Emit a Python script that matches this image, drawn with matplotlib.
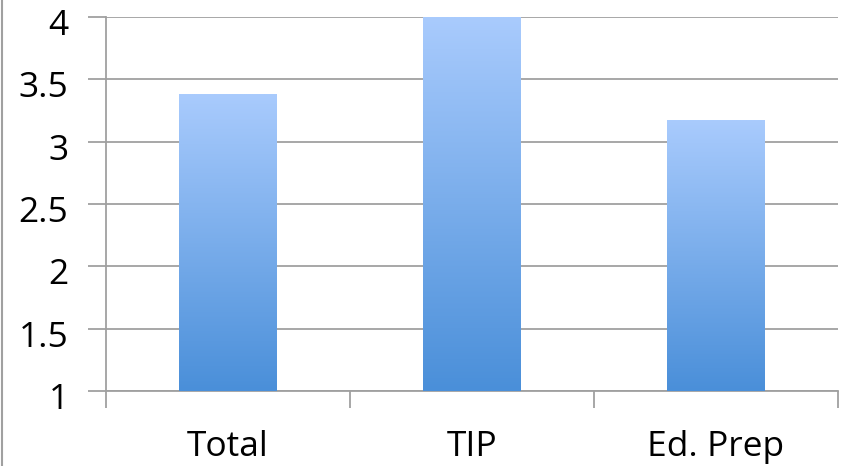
import matplotlib
matplotlib.use("Agg")
import matplotlib.pyplot as plt
import numpy as np
from matplotlib.colors import LinearSegmentedColormap
from matplotlib.lines import Line2D
from matplotlib.transforms import ScaledTranslation

categories = ["Total", "TIP", "Ed. Prep"]
values = [3.38, 4.0, 3.17]
yticks = [1, 1.5, 2, 2.5, 3, 3.5, 4]
ytick_labels = ["1", "1.5", "2", "2.5", "3", "3.5", "4"]

plt.rcParams['font.family'] = ['Open Sans', 'DejaVu Sans']

fig = plt.figure(figsize=(8.45, 4.66), dpi=100)
ax = fig.add_axes([106/845, 1-391/466, 732/845, 374/466])

x = np.arange(len(categories))
bars = ax.bar(x, [v - 1 for v in values], bottom=1, width=0.4, color='none', zorder=3)

cmap = LinearSegmentedColormap.from_list("g", ["#4a8fd9", "#a9cbfd"])
grad = np.linspace(0, 1, 256).reshape(-1, 1)
for b in bars:
    x0, y0 = b.get_x(), b.get_y()
    w, h = b.get_width(), b.get_height()
    im = ax.imshow(grad, cmap=cmap, origin='lower', aspect='auto',
                   extent=[x0, x0 + w, y0, y0 + h], zorder=3)
    im.set_clip_path(b)

ax.set_xlim(-0.5, len(categories) - 0.5)
ax.set_ylim(1, 4)
ax.set_yticks(yticks)
ax.set_yticklabels(ytick_labels)
ax.set_xticks(x)
ax.set_xticklabels(categories)
ax.set_xticks([-0.5, 0.5, 1.5, 2.5], minor=True)

for s in ['top', 'right']:
    ax.spines[s].set_visible(False)
for s in ['left', 'bottom']:
    ax.spines[s].set_color('#a0a0a0')
    ax.spines[s].set_linewidth(1.3)

ax.yaxis.grid(True, color='#a0a0a0', linewidth=1.3, zorder=0)
ax.set_axisbelow(True)
ax.tick_params(axis='y', length=13, width=1.3, color='#a0a0a0', pad=14, labelsize=25.5)
ax.tick_params(axis='x', which='major', length=0, pad=28, labelsize=25.5)
ax.tick_params(axis='x', which='minor', length=12, width=1.3, color='#a0a0a0')

offset = ScaledTranslation(0, -5/100, fig.dpi_scale_trans)
for lab in ax.get_yticklabels():
    lab.set_transform(lab.get_transform() + offset)

fig.add_artist(Line2D([2/845, 2/845], [0, 1], transform=fig.transFigure,
                      color='#a0a0a0', linewidth=1.5))

fig.savefig("out.png", dpi=100)
